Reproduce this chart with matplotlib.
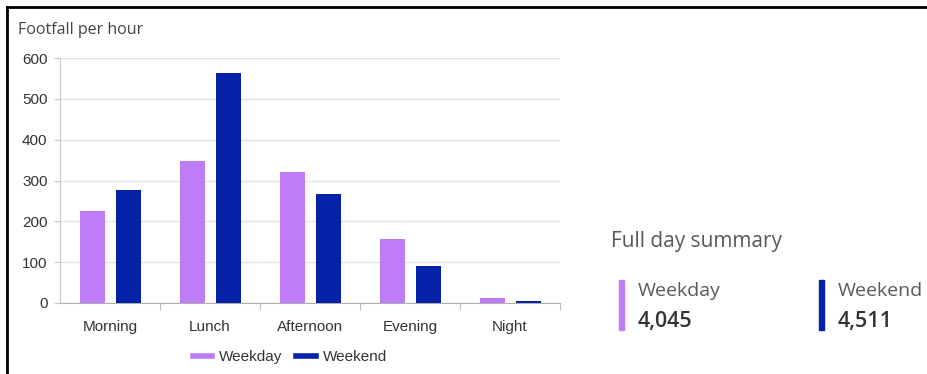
import numpy as np
import matplotlib.pyplot as plt
from matplotlib.patches import Rectangle
from matplotlib.lines import Line2D

periods = ["Morning", "Lunch", "Afternoon", "Evening", "Night"]
weekday = [225, 348, 321, 157, 12]
weekend = [277, 564, 267, 91, 5]
totals = {"Weekday": "4,045", "Weekend": "4,511"}

C_WD = "#BF7CF7"
C_WE = "#0421A8"
GREY = "#595959"

fig = plt.figure(figsize=(9.28, 3.74), dpi=100)
ax = fig.add_axes([60 / 928, 1 - 303 / 374, 500 / 928, 245 / 374])

x = np.arange(len(periods))
w = 0.25
ax.bar(x - 0.18, weekday, width=w, color=C_WD, zorder=3)
ax.bar(x + 0.18, weekend, width=w, color=C_WE, zorder=3)

ax.set_xlim(-0.5, len(periods) - 0.5)
ax.set_ylim(0, 600)
ax.set_yticks(range(0, 601, 100))
ax.yaxis.grid(True, color="#E3E3E3", lw=1, zorder=0)
ax.set_axisbelow(True)

for s in ["top", "right"]:
    ax.spines[s].set_visible(False)
ax.spines["left"].set_color("#C8C8C8")
ax.spines["bottom"].set_color("#B0B0B0")

ax.set_xticks(x)
ax.set_xticklabels(periods, family="Liberation Sans", fontsize=11, color="#333333")
ax.set_xticks(np.arange(0.5, len(periods), 1.0), minor=True)
ax.tick_params(axis="x", which="major", length=0, pad=12)
ax.tick_params(axis="x", which="minor", length=5, color="#B0B0B0")
ax.tick_params(axis="y", length=4, color="#C8C8C8", labelsize=11, labelcolor="#333333", pad=5)
for lab in ax.get_yticklabels():
    lab.set_family("Liberation Sans")

fig.text(18 / 928, 1 - 30 / 374, "Footfall per hour", family="Open Sans",
         fontsize=11.5, color="#444444", va="center", ha="left")

handles = [Line2D([0], [0], color=C_WD, lw=4), Line2D([0], [0], color=C_WE, lw=4)]
fig.legend(handles, list(totals.keys()), loc="center", bbox_to_anchor=(290 / 928, 1 - 357 / 374),
           ncol=2, frameon=False, handlelength=1.3, handletextpad=0.45, columnspacing=0.9,
           prop={"family": "Liberation Sans", "size": 11})
for t in fig.legends[0].get_texts():
    t.set_color("#333333")

# summary panel
fig.text(611 / 928, 1 - 242 / 374, "Full day summary", family="Open Sans",
         fontsize=15, color=GREY, va="center", ha="left")
for i, (name, col) in enumerate(zip(totals.keys(), [C_WD, C_WE])):
    x0 = 619 + i * 200
    fig.patches.append(Rectangle((x0 / 928, 1 - 330 / 374), 5 / 928, 50 / 374,
                                 transform=fig.transFigure, color=col))
    fig.text((x0 + 19) / 928, 1 - 291 / 374, name, family="Open Sans",
             fontsize=14, color=GREY, va="center", ha="left")
    fig.text((x0 + 19) / 928, 1 - 321 / 374, totals[name], family="Open Sans",
             fontsize=15.5, color="#333333", weight="semibold", va="center", ha="left")

# outer frame (top and left)
fig.add_artist(Line2D([7 / 928, 928 / 928], [1 - 7 / 374] * 2, transform=fig.transFigure,
                      color="black", lw=2))
fig.add_artist(Line2D([7 / 928] * 2, [1 - 7 / 374, 0], transform=fig.transFigure,
                      color="black", lw=2))

fig.savefig("out.png", dpi=100)
